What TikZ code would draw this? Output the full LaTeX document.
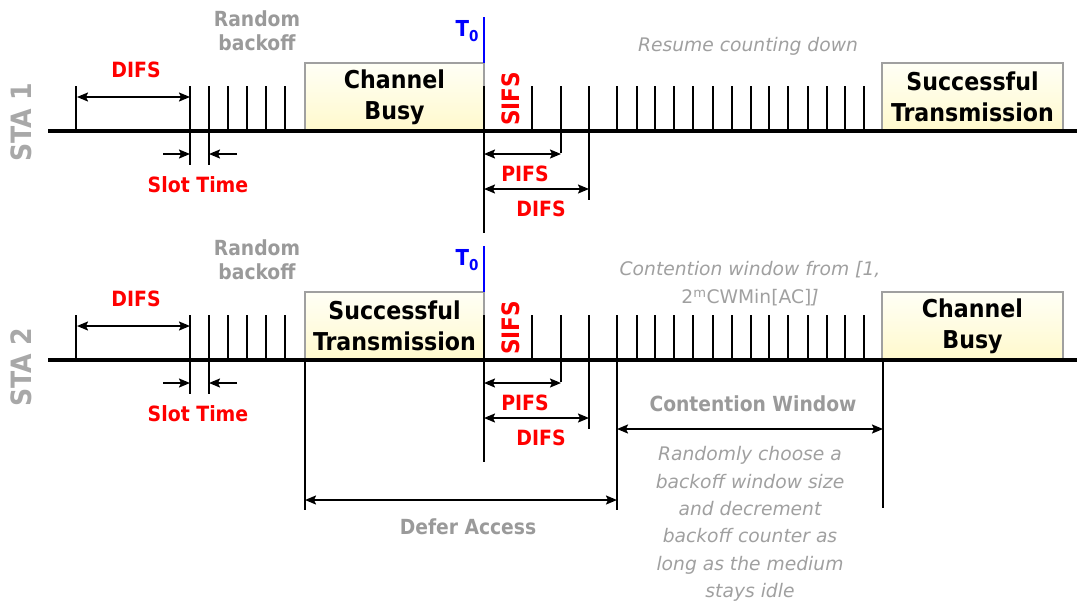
\documentclass[tikz,border=0pt]{standalone}
\usepackage{fontspec}
\setmainfont{DejaVu Sans Condensed}
\newfontfamily\itfont{DejaVu Sans}
\usetikzlibrary{arrows.meta}
\definecolor{lblgray}{HTML}{9A9A9A}
\definecolor{itgray}{HTML}{A0A0A0}
\definecolor{stagray}{HTML}{A8A8A8}
\definecolor{boxgray}{HTML}{A0A0A0}
\definecolor{boxtop}{HTML}{FFFFF6}
\definecolor{boxbot}{HTML}{FFF9CC}
\definecolor{tblue}{HTML}{0000FF}
\definecolor{lblred}{HTML}{FF0000}
\begin{document}
\begin{tikzpicture}[x=1pt,y=-1pt,
  tl/.style={line width=3.5pt},
  tk/.style={line width=1.9pt},
  dim/.style={line width=1.7pt,{Stealth[length=11pt,width=9pt,inset=2pt]}-{Stealth[length=11pt,width=9pt,inset=2pt]}},
  sarr/.style={line width=1.7pt,-{Stealth[length=11pt,width=9pt,inset=2pt]}},
  redlbl/.style={text=lblred,font=\bfseries\fontsize{21}{22}\selectfont,inner sep=0},
  graylbl/.style={text=lblgray,font=\bfseries\fontsize{20.8}{24}\selectfont,inner sep=0,align=center},
  itlbl/.style={text=itgray,font=\itfont\itshape\fontsize{18.7}{27.4}\selectfont,inner sep=0,align=center},
  stalbl/.style={text=stagray,font=\bfseries\fontsize{28}{28}\selectfont,rotate=90,inner sep=0},
  evbox/.style={draw=boxgray,line width=1.5pt,top color=boxtop,bottom color=boxbot,inner sep=0,align=center,font=\bfseries\fontsize{24.6}{31}\selectfont,minimum height=68pt},
]
\useasboundingbox (0,0) rectangle (1077,606);

\foreach \s/\o/\a/\b in {1/0/{Channel\\Busy}/{Successful\\Transmission},2/229/{Successful\\Transmission}/{Channel\\Busy}}{
\begin{scope}[shift={(0,\o)}]
  % boxes
  \node[evbox,minimum width=179pt] (boxA\s) at (394.5,97) {\a};
  \node[evbox,minimum width=181pt] (boxB\s) at (972.5,97) {\b};
  % timeline
  \coordinate (L\s) at (48,131);
  \coordinate (R\s) at (1077,131);
  \draw[tl] (L\s) -- (R\s);
  % ticks
  \draw[tk] (76,86) -- (76,131);
  \draw[tk] (190,86) -- (190,165);
  \draw[tk] (209,86) -- (209,165);
  \foreach \x in {228,247,266,285} \draw[tk] (\x,86) -- (\x,131);
  \draw[tk] (484,86) -- (484,233);
  \draw[tk] (532,86) -- (532,131);
  \draw[tk] (561,86) -- (561,153);
  \draw[tk] (589,86) -- (589,200);
  \foreach \x in {617,637,655,674,693,713,732,751,769,788,808,827,845,864} \draw[tk] (\x,86) -- (\x,131);
  % T0
  \coordinate (T0top\s) at (484,17);
  \coordinate (T0bot\s) at (484,63);
  \draw[line width=1.8pt,tblue] (T0top\s) -- (T0bot\s);
  \node[text=tblue,font=\bfseries\fontsize{22}{22}\selectfont,inner sep=0] (T0lbl\s) at (467,31) {T\raisebox{-0.35ex}{\fontsize{15}{15}\selectfont 0}};
  % dimension arrows
  \coordinate (d1a\s) at (77,97); \coordinate (d1b\s) at (190,97);
  \draw[dim] (d1a\s) -- (d1b\s);
  \coordinate (s1a\s) at (163,154); \coordinate (s1b\s) at (190,154);
  \coordinate (s2a\s) at (237,154); \coordinate (s2b\s) at (209,154);
  \draw[sarr] (s1a\s) -- (s1b\s);
  \draw[sarr] (s2a\s) -- (s2b\s);
  \coordinate (p1a\s) at (484,154); \coordinate (p1b\s) at (561,154);
  \draw[dim] (p1a\s) -- (p1b\s);
  \coordinate (p2a\s) at (484,189); \coordinate (p2b\s) at (589,189);
  \draw[dim] (p2a\s) -- (p2b\s);
  % labels
  \node[redlbl] (difsA\s) at (136,70) {DIFS};
  \node[redlbl] (slot\s) at (198,185) {Slot Time};
  \node[redlbl,rotate=90,font=\bfseries\fontsize{24}{24}\selectfont] (sifs\s) at (511,99) {SIFS};
  \node[redlbl] (pifs\s) at (525,174) {PIFS};
  \node[redlbl] (difsB\s) at (541,209) {DIFS};
  \node[graylbl] (rb\s) at (257,31) {Random\\backoff};
\end{scope}
}

\node[stalbl] (sta1) at (21,122) {STA 1};
\node[stalbl] (sta2) at (21,367) {STA 2};

\node[itlbl] (resume) at (748,46) {Resume counting down};
\node[itlbl,font=\itfont\fontsize{18.7}{28}\selectfont] (cwfrom) at (750,284) {\textit{Contention window from [1,}\\2\textsuperscript{m}CWMin[AC]\textit{]}};

% STA2 extras
\coordinate (da) at (305,360); \coordinate (dab) at (305,510);
\coordinate (db) at (617,360); \coordinate (dbb) at (617,510);
\coordinate (cb) at (883,360); \coordinate (cbb) at (883,508);
\draw[tk] (da) -- (dab);
\draw[tk] (db) -- (dbb);
\draw[tk] (cb) -- (cbb);
\coordinate (defa) at (305,500); \coordinate (defb) at (617,500);
\draw[dim] (defa) -- (defb);
\coordinate (cwa) at (617,429); \coordinate (cwb) at (883,429);
\draw[dim] (cwa) -- (cwb);
\node[graylbl] (defer) at (468,527) {Defer Access};
\node[graylbl] (cwlbl) at (753,404) {Contention Window};
\node[itlbl] (para) at (750,524) {Randomly choose a\\backoff window size\\and decrement\\backoff counter as\\long as the medium\\stays idle};
\end{tikzpicture}
\end{document}
